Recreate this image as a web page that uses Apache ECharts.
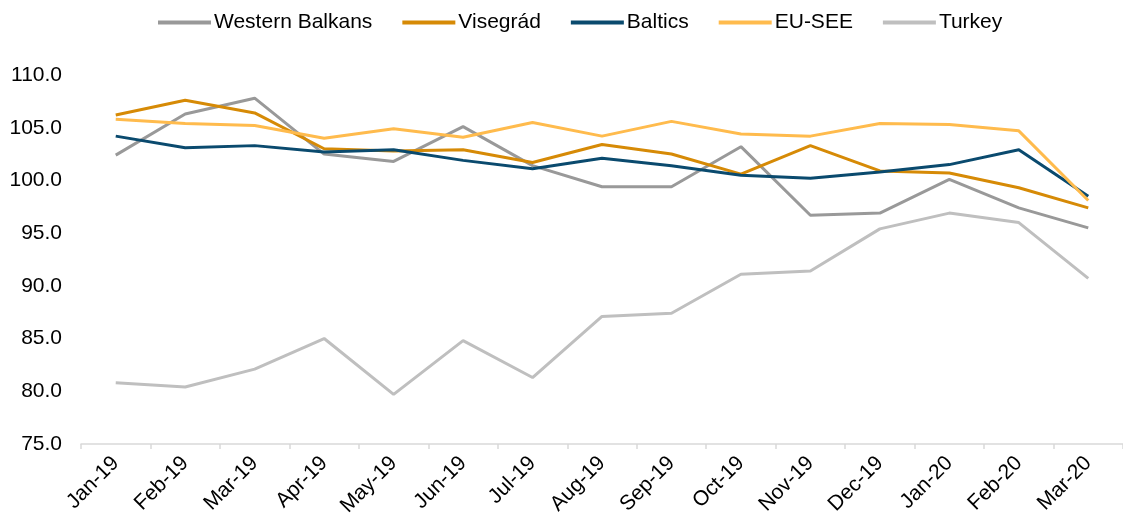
<!DOCTYPE html>
<html>
<head>
<meta charset="utf-8">
<script src="https://cdn.jsdelivr.net/npm/echarts@6/dist/echarts.min.js"></script>
<style>
    html, body { margin: 0; padding: 0; background: #fff; }
    #main { width: 1123px; height: 519px; }
</style>
</head>
<body>
<div id="main"></div>
<script>
// 月份
let months = ['Jan-19', 'Feb-19', 'Mar-19', 'Apr-19', 'May-19', 'Jun-19', 'Jul-19', 'Aug-19',
    'Sep-19', 'Oct-19', 'Nov-19', 'Dec-19', 'Jan-20', 'Feb-20', 'Mar-20']

let westernBalkans = [102.4, 106.3, 107.8, 102.5, 101.8, 105.1, 101.4, 99.4, 99.4, 103.2, 96.7, 96.9, 100.1, 97.4, 95.5]
let visegrad = [106.2, 107.6, 106.4, 103.0, 102.8, 102.9, 101.7, 103.4, 102.5, 100.6, 103.3, 100.9, 100.7, 99.3, 97.4]
let baltics = [104.2, 103.1, 103.3, 102.7, 102.9, 101.9, 101.1, 102.1, 101.4, 100.5, 100.2, 100.8, 101.5, 102.9, 98.5]
let euSee = [105.8, 105.4, 105.2, 104.0, 104.9, 104.1, 105.5, 104.2, 105.6, 104.4, 104.2, 105.4, 105.3, 104.7, 98.1]
let turkey = [80.8, 80.4, 82.1, 85.0, 79.7, 84.8, 81.3, 87.1, 87.4, 91.1, 91.4, 95.4, 96.9, 96.0, 90.7]

let myChart = echarts.init(document.getElementById('main'))

function line(name, data, color) {
    return {
        name: name,
        type: 'line',
        data: data,
        symbol: 'none',
        smooth: false,
        lineStyle: { color: color, width: 3 },
        itemStyle: { color: color }
    }
}

let option = {
    animation: false,
    textStyle: { fontFamily: 'Liberation Sans, Arial, sans-serif' },
    legend: {
        top: 7,
        left: 153,
        icon: 'rect',
        itemWidth: 53,
        itemHeight: 4,
        itemGap: 30,
        textStyle: { fontSize: 21, color: '#000', padding: [0, 0, 0, -2] },
        data: ['Western Balkans', 'Visegrád', 'Baltics', 'EU-SEE', 'Turkey']
    },
    grid: {
        left: 81,
        top: 75,
        width: 1054,
        height: 370,
        containLabel: false
    },
    xAxis: {
        type: 'category',
        data: months,
        boundaryGap: true,
        axisLine: { show: true, lineStyle: { color: '#d9d9d9', width: 1.5 } },
        axisTick: { show: true, length: 5, lineStyle: { color: '#d9d9d9', width: 1.5 } },
        axisLabel: {
            rotate: 45,
            fontSize: 21,
            color: '#000',
            margin: 16,
            interval: 0
        }
    },
    yAxis: {
        type: 'value',
        min: 75,
        max: 110,
        interval: 5,
        axisLine: { show: false },
        axisTick: { show: false },
        splitLine: { show: false },
        axisLabel: {
            fontSize: 21,
            color: '#000',
            margin: 19,
            formatter: function (v) { return v.toFixed(1) }
        }
    },
    series: [
        line('Western Balkans', westernBalkans, '#999999'),
        line('Visegrád', visegrad, '#d68a06'),
        line('Baltics', baltics, '#0a4a6e'),
        line('EU-SEE', euSee, '#ffbb4d'),
        line('Turkey', turkey, '#bfbfbf')
    ]
}

myChart.setOption(option)
</script>
</body>
</html>
